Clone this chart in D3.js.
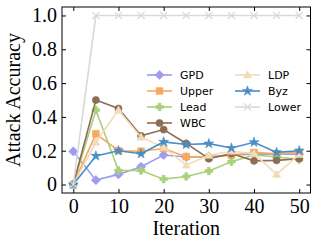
<!DOCTYPE html>
<html>
<head>
  <meta charset="utf-8">
  <title>Attack Accuracy</title>
  <script src="https://d3js.org/d3.v7.min.js"></script>
  <style>
    body { margin: 0; background: #fff; }
    .axis text { font: 20px "Liberation Serif", serif; fill: #000; }
    .axis path, .axis line { stroke: #000; }
    .lbl { font: 20px "Liberation Serif", serif; fill: #000; }
    .leg { font: 11px "DejaVu Sans", sans-serif; fill: #000; }
  </style>
</head>
<body>
<svg width="319" height="248"></svg>
<script>
  // iterations
  var iterations = [0, 5, 10, 15, 20, 25, 30, 35, 40, 45, 50];
  // series values
  var gpd   = [0.196, 0.026, 0.06, 0.105, 0.175, 0.163, 0.165, 0.175, 0.18, 0.18, 0.18];
  var upper = [0, 0.30, 0.20, 0.197, 0.213, 0.165, 0.16, 0.173, 0.19, 0.182, 0.19];
  var lead  = [0, 0.44, 0.083, 0.083, 0.032, 0.048, 0.08, 0.135, 0.175, 0.163, 0.148];
  var wbc   = [0, 0.50, 0.45, 0.288, 0.325, 0.243, 0.153, 0.183, 0.14, 0.143, 0.153];
  var ldp   = [0, 0.25, 0.44, 0.28, 0.22, 0.115, 0.173, 0.197, 0.183, 0.06, 0.178];
  var byz   = [0, 0.169, 0.20, 0.182, 0.252, 0.237, 0.242, 0.216, 0.25, 0.19, 0.2];
  var lower = [0, 1, 1, 1, 1, 1, 1, 1, 1, 1, 1];
  var xTicks = [0, 10, 20, 30, 40, 50];
  var yTicks = [0, 0.2, 0.4, 0.6, 0.8, 1.0];

  var series = [
    {name: "GPD",   vals: gpd,   color: "#9d9cf1", mark: "diamond"},
    {name: "Upper", vals: upper, color: "#f7a95e", mark: "square"},
    {name: "Lead",  vals: lead,  color: "#a9d07a", mark: "plus"},
    {name: "WBC",   vals: wbc,   color: "#8c6e50", mark: "circle"},
    {name: "LDP",   vals: ldp,   color: "#f2dbb8", mark: "triangle"},
    {name: "Byz",   vals: byz,   color: "#4a8dc6", mark: "star"},
    {name: "Lower", vals: lower, color: "#d9d9d9", mark: "x"}
  ];

  var svg = d3.select("svg");
  var L = 62, R = 310.5, T = 7, B = 193;
  var x = d3.scaleLinear().domain([-2.5, 52.5]).range([L, R]);
  var y = d3.scaleLinear().domain([-0.05, 1.05]).range([B, T]);

  // marker paths, centred at 0,0
  function markPath(m) {
    var s = 3.6;
    if (m === "diamond") return "M0,-4.6L4.6,0L0,4.6L-4.6,0Z";
    if (m === "square") return "M-3.4,-3.4H3.4V3.4H-3.4Z";
    if (m === "circle") return d3.symbol(d3.symbolCircle, 40)();
    if (m === "triangle") return "M0,-4.2L4,3L-4,3Z";
    if (m === "star") return d3.symbol(d3.symbolStar, 30)();
    if (m === "plus") {
      var a = 1.4, b = 3.8;
      return "M-" + a + ",-" + b + "H" + a + "V-" + a + "H" + b + "V" + a + "H" + a + "V" + b +
             "H-" + a + "V" + a + "H-" + b + "V-" + a + "H-" + a + "Z";
    }
    if (m === "x") return "M-" + s + ",-" + s + "L" + s + "," + s + "M" + s + ",-" + s + "L-" + s + "," + s;
  }

  function drawMark(g, d, px, py) {
    var p = g.append("path")
      .attr("d", markPath(d.mark))
      .attr("transform", "translate(" + px + "," + py + ")");
    if (d.mark === "x") p.attr("fill", "none").attr("stroke", d.color).attr("stroke-width", 1.3);
    else p.attr("fill", d.color).attr("stroke", d.color).attr("stroke-width", 0.6);
  }

  var line = d3.line().x((d, i) => x(iterations[i])).y(d => y(d));

  var plot = svg.append("g");
  series.forEach(function(s) {
    var g = plot.append("g");
    g.append("path")
      .attr("d", line(s.vals))
      .attr("fill", "none")
      .attr("stroke", s.color)
      .attr("stroke-width", 1.6);
    s.vals.forEach(function(v, i) { drawMark(g, s, x(iterations[i]), y(v)); });
  });

  // axes, ticks inward on all sides
  function fmt(d) { return d === 0 ? "0" : d.toFixed(1); }
  svg.append("g").attr("class", "axis").attr("transform", "translate(0," + B + ")")
    .call(d3.axisBottom(x).tickValues(xTicks).tickSize(-4).tickPadding(6).tickSizeOuter(0))
    .select(".domain").remove();
  svg.append("g").attr("class", "axis").attr("transform", "translate(0," + T + ")")
    .call(d3.axisTop(x).tickValues(xTicks).tickSize(-4).tickFormat("").tickSizeOuter(0))
    .select(".domain").remove();
  svg.append("g").attr("class", "axis").attr("transform", "translate(" + L + ",0)")
    .call(d3.axisLeft(y).tickValues(yTicks).tickSize(-4).tickPadding(5).tickFormat(fmt).tickSizeOuter(0))
    .select(".domain").remove();
  svg.append("g").attr("class", "axis").attr("transform", "translate(" + R + ",0)")
    .call(d3.axisRight(y).tickValues(yTicks).tickSize(-4).tickFormat("").tickSizeOuter(0))
    .select(".domain").remove();
  svg.append("rect")
    .attr("x", L).attr("y", T).attr("width", R - L).attr("height", B - T)
    .attr("fill", "none").attr("stroke", "#000").attr("stroke-width", 1);

  svg.append("text").attr("class", "lbl")
    .attr("x", (L + R) / 2).attr("y", 235).attr("text-anchor", "middle")
    .text("Iteration");
  svg.append("text").attr("class", "lbl")
    .attr("transform", "translate(20," + ((T + B) / 2) + ") rotate(-90)")
    .attr("text-anchor", "middle")
    .text("Attack Accuracy");

  // legend, two columns, no frame
  var legCols = [{lx: 147, tx: 180}, {lx: 235, tx: 268}];
  series.forEach(function(s, i) {
    var col = legCols[i < 4 ? 0 : 1];
    var row = i < 4 ? i : i - 4;
    var ly = 75 + row * 16;
    var g = svg.append("g");
    g.append("line")
      .attr("x1", col.lx).attr("x2", col.lx + 25)
      .attr("y1", ly).attr("y2", ly)
      .attr("stroke", s.color).attr("stroke-width", 1.6);
    drawMark(g, s, col.lx + 12.5, ly);
    g.append("text").attr("class", "leg")
      .attr("x", col.tx).attr("y", ly).attr("dy", "0.36em")
      .text(s.name);
  });
</script>
</body>
</html>
